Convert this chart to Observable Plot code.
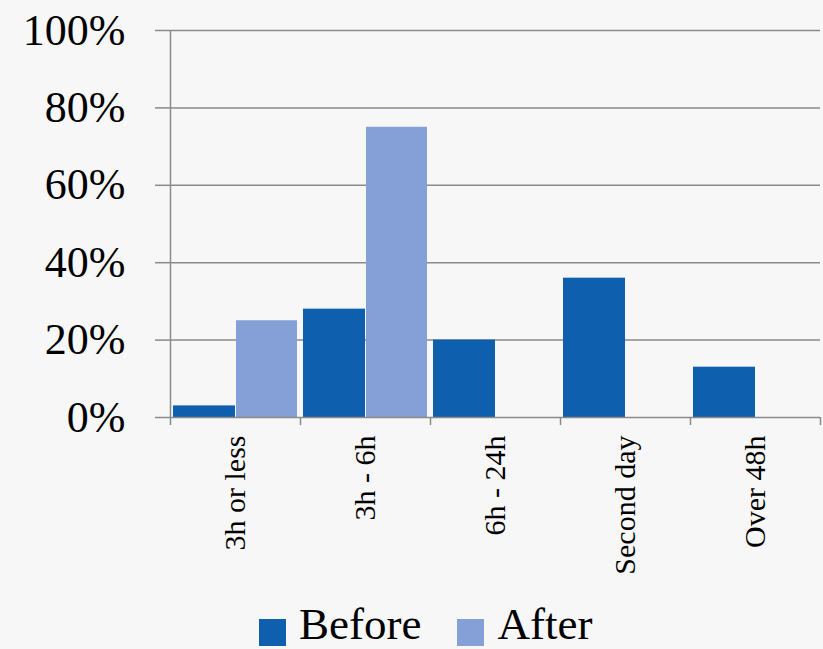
<!DOCTYPE html>
<html>
<head>
<meta charset="utf-8">
<script src="https://cdn.jsdelivr.net/npm/d3@7"></script>
<script src="https://cdn.jsdelivr.net/npm/@observablehq/plot@0.6"></script>
<style>
  html, body { margin: 0; padding: 0; background: #f7f7f7; }
  #wrap { width: 823px; height: 649px; position: relative; overflow: hidden; font-family: "Liberation Serif", serif; }
  #legend { position: absolute; left: 259px; top: 596px; height: 53px; display: flex; align-items: flex-start; font-size: 45px; line-height: 45px; padding-top: 6px; color: #000; }
  .sw { width: 27px; height: 27px; margin-top: 17px; margin-right: 13px; }
  .lab { margin-right: 36px; white-space: nowrap; }
</style>
</head>
<body>
<div id="wrap"></div>
<script>
const categories = ["3h or less", "3h - 6h", "6h - 24h", "Second day", "Over 48h"];
const before = [3, 28, 20, 36, 13];
const after = [25, 75, 0, 0, 0];
const seriesNames = ["Before", "After"];
const seriesColors = ["#0e5fae", "#84a0d6"];
const yTicks = [0, 20, 40, 60, 80, 100];

const rows = categories.map((c, i) => ({ i, category: c, before: before[i], after: after[i] }));

const chart = Plot.plot({
  width: 823,
  height: 596,
  marginLeft: 170,
  marginRight: 3,
  marginTop: 30,
  marginBottom: 179,
  style: { background: "transparent", fontFamily: "Liberation Serif, serif", color: "#000" },
  x: { type: "linear", domain: [0, categories.length], axis: null },
  y: { domain: [0, 100], axis: null },
  marks: [
    Plot.ruleY(yTicks.slice(1), { y: d => d, stroke: "#8a8a8a", strokeWidth: 1.5 }),
    Plot.rectY(rows, { x1: d => d.i, x2: d => d.i + 0.5, y1: 0, y2: d => d.before, fill: seriesColors[0], insetLeft: 3 }),
    Plot.rectY(rows.filter(d => d.after > 0), { x1: d => d.i + 0.5, x2: d => d.i + 1, y1: 0, y2: d => d.after, fill: seriesColors[1], insetRight: 3, insetLeft: 1 }),
    Plot.ruleY([0], { stroke: "#8a8a8a", strokeWidth: 1.5 }),
    Plot.ruleX([0], { stroke: "#8a8a8a", strokeWidth: 1.5 }),
    Plot.axisY({ ticks: yTicks, tickSize: 15, tickPadding: 30, tickFormat: d => d + "%", stroke: "#8a8a8a", strokeWidth: 1.5, fill: "#000", fontSize: 44, label: null }),
    Plot.axisX({ ticks: d3.range(0, categories.length + 1), tickSize: 8, tickFormat: () => "", stroke: "#8a8a8a", strokeWidth: 1.5, label: null }),
    Plot.axisX({ ticks: categories.map((c, i) => i + 0.5), tickSize: 0, tickPadding: 18, tickRotate: -90, tickFormat: d => categories[Math.floor(d)], fill: "#000", fontSize: 30, label: null })
  ]
});

const wrap = document.getElementById("wrap");
wrap.appendChild(chart);
const legend = document.createElement("div");
legend.id = "legend";
seriesNames.forEach((name, k) => {
  const sw = document.createElement("div");
  sw.className = "sw";
  sw.style.background = seriesColors[k];
  const lab = document.createElement("span");
  lab.className = "lab";
  lab.textContent = name;
  legend.appendChild(sw);
  legend.appendChild(lab);
});
wrap.appendChild(legend);
</script>
</body>
</html>
